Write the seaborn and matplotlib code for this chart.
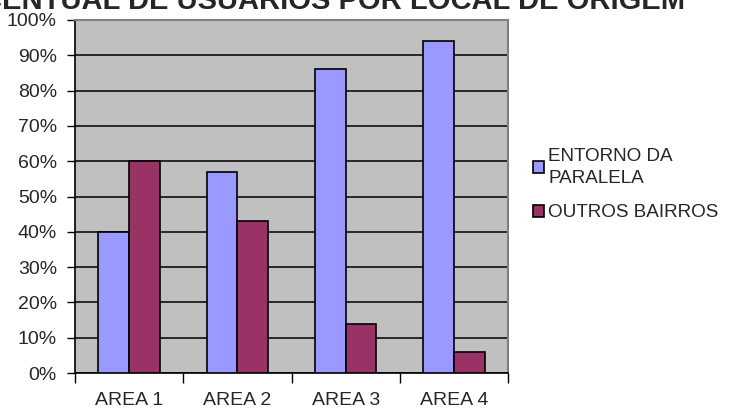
import pandas as pd
import numpy as np
import matplotlib.pyplot as plt
import seaborn as sns

# data
areas = ['AREA 1', 'AREA 2', 'AREA 3', 'AREA 4']
entorno = [40, 57, 86, 94]
outros = [60, 43, 14, 6]
series_names = ['ENTORNO DA\nPARALELA', 'OUTROS BAIRROS']
yticks = [0, 10, 20, 30, 40, 50, 60, 70, 80, 90, 100]
title = 'PERCENTUAL DE USUÁRIOS POR LOCAL DE ORIGEM'

sns.set_style('white')
plt.rcParams['font.family'] = ['Liberation Sans', 'DejaVu Sans']

df = pd.DataFrame({
    'Area': areas * 2,
    'Valor': entorno + outros,
    'Origem': [series_names[0]] * len(areas) + [series_names[1]] * len(areas),
})

fig = plt.figure(figsize=(7.35, 4.08), dpi=100)
ax = fig.add_axes([75 / 735, 1 - 373 / 408, 433 / 735, 353 / 408])
ax.set_facecolor('#C0C0C0')

sns.barplot(
    data=df, x='Area', y='Valor', hue='Origem',
    palette=['#9999FF', '#993366'],
    width=0.57, gap=0, edgecolor='black', linewidth=1.2,
    saturation=1, ax=ax, zorder=3
)

ax.set_xlim(-0.5, len(areas) - 0.5)
ax.set_ylim(0, 100)
ax.set_yticks(yticks)
ax.set_yticklabels([f'{v}%' for v in yticks])
ax.yaxis.grid(True, color='black', linewidth=1.1, zorder=1)
ax.set_axisbelow(True)

# tick marks at group boundaries, labels at centres
ax.set_xticks(np.arange(len(areas)))
ax.set_xticklabels(areas)
ax.set_xticks(np.arange(-0.5, len(areas)), minor=True)
ax.tick_params(axis='x', which='major', length=0, pad=14, labelsize=14)
ax.tick_params(axis='x', which='minor', length=7, width=1, color='black',
               direction='out', bottom=True)
ax.tick_params(axis='y', length=6, width=1, color='black', direction='out',
               left=True, pad=7, labelsize=14)

ax.set_xlabel('')
ax.set_ylabel('')

for side in ['top', 'right']:
    ax.spines[side].set_color('#808080')
    ax.spines[side].set_linewidth(1.5)
for side in ['left', 'bottom']:
    ax.spines[side].set_color('black')
    ax.spines[side].set_linewidth(1.2)

handles, labels = ax.get_legend_handles_labels()
leg = ax.legend(handles, labels, loc='upper left',
                bbox_to_anchor=(533 / 735, 1 - 148 / 408),
                bbox_transform=fig.transFigure,
                frameon=False, fontsize=13.6, handlelength=0.6, handleheight=0.6,
                handletextpad=0.2, labelspacing=0.9, borderaxespad=0, borderpad=0)
for t in leg.get_texts():
    t.set_linespacing(1.4)

fig.text(685 / 735, 1 - 9 / 408, title, ha='right', va='baseline',
         fontsize=21, fontweight='bold')

fig.savefig('out.png', dpi=100)
